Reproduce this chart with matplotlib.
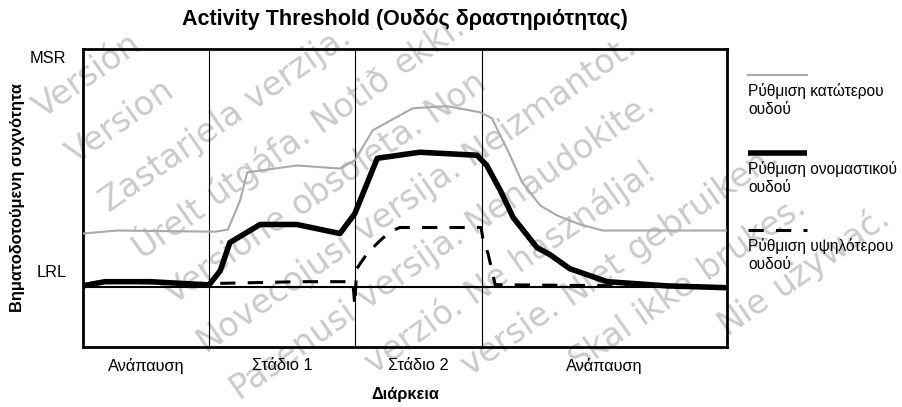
import numpy as np
import matplotlib
matplotlib.use("Agg")
import matplotlib.pyplot as plt
from matplotlib.lines import Line2D
from matplotlib.font_manager import FontProperties

plt.rcParams['font.family'] = ['Liberation Sans', 'DejaVu Sans']

# ---- data -------------------------------------------------------------
# time axis (arbitrary units, 0..100) and paced rate relative to LRL (=0)
t_lower = [0, 5.4, 20.5, 22.5, 24.4, 25.5, 33.2, 39.9, 42.2, 45.0, 51.2,
           56.5, 61.6, 63.5, 66.3, 68.2, 71.0, 73.6, 77.2, 80.7, 100]
r_lower = [17.7, 18.7, 18.3, 19.0, 28.7, 38.0, 40.3, 39.3, 42.0, 52.0, 59.3,
           60.0, 58.0, 56.0, 43.7, 34.7, 27.0, 23.7, 20.7, 18.7, 18.7]

t_nominal = [0, 3.4, 10.4, 18.9, 19.6, 21.3, 22.8, 27.5, 33.2, 39.9, 42.2,
             45.7, 52.3, 61.2, 62.7, 64.8, 66.8, 70.5, 72.5, 75.6, 81.4,
             90.7, 100]
r_nominal = [0.3, 1.7, 1.7, 0.7, 0.7, 5.3, 14.7, 20.7, 20.7, 17.7, 24.3,
             42.7, 44.7, 43.7, 40.3, 32.0, 23.0, 13.0, 10.7, 6.0, 1.7,
             0.3, -0.3]

t_upper = [0, 2.6, 18.2, 33.7, 41.9, 42.2, 42.5, 44.1, 46.1, 47.7, 49.2,
           61.8, 62.1, 62.9, 64.0, 100]
r_upper = [0.7, 1.7, 1.0, 1.7, 1.7, -6.0, 6.0, 11.0, 15.3, 18.3, 19.7,
           19.7, 16.0, 11.0, 0.7, 0.0]

phase_edges = [0, 19.6, 42.2, 62.0, 100]
phase_labels = ["Ανάπαυση", "Στάδιο 1", "Στάδιο 2", "Ανάπαυση"]

LRL = 0
MSR = 76
rate_labels = ["LRL", "MSR"]

series_labels = ["Ρύθμιση κατώτερου\nουδού",
                 "Ρύθμιση ονομαστικού\nουδού",
                 "Ρύθμιση υψηλότερου\nουδού"]

title = "Activity Threshold (Ουδός δραστηριότητας)"
xlabel = "Διάρκεια"
ylabel = "Βηματοδοτούμενη συχνότητα"

# document stamp, one language per row
stamp_rows = [
    "Outdated version. Do not use.",
    "Versión obsoleta. No utilizar.",
    "Version périmée. Ne pas utiliser.",
    "Zastarjela verzija. Nemojte upotrebljavati.",
    "Úrelt útgáfa. Notið ekki.",
    "Versione obsoleta. Non utilizzare.",
    "Novecojusi versija. Neizmantot.",
    "Pasenusi versija. Nenaudokite.",
    "Elavult verzió. Ne használja!",
    "Verouderde versie. Niet gebruiken.",
    "Utdatert versjon. Skal ikke brukes.",
    "Wersja przeterminowana. Nie używać.",
    "Versão obsoleta. Não utilize.",
    "Versiune expirată. A nu se utiliza.",
    "Zastaraná verzia. Nepoužívať.",
]

# ---- styles -----------------------------------------------------------
styles = [
    dict(color="#a9a9a9", lw=1.5, ls="-"),
    dict(color="black", lw=4.0, ls="-", solid_capstyle="butt"),
    dict(color="black", lw=2.2, ls=(0, (5, 4)), dash_capstyle="butt"),
]

W, H = 902, 407
fig = plt.figure(figsize=(W / 100, H / 100), dpi=100)
ax = fig.add_axes([83 / W, 1 - 347 / H, 644 / W, 298 / H])
ax.patch.set_alpha(0)

# stamp text: rotated rows behind the chart, whole words only
stamp_size = 24
stamp_prop = FontProperties(family="DejaVu Sans", size=stamp_size)
renderer = fig.canvas.get_renderer()


def text_w(s):
    return renderer.get_text_width_height_descent(s, stamp_prop, ismath=False)[0]


ang = np.deg2rad(35)
along = np.array([np.cos(ang), -np.sin(ang)])   # pixel coords, y down
up = np.array([-np.sin(ang), -np.cos(ang)])
perp = -up
px = stamp_size * 100 / 72
asc, desc = 0.74 * px, 0.22 * px
row0 = np.array([10.0, 72.0])
row_gap = 57
for i, row in enumerate(stamp_rows):
    start = row0 + i * row_gap * perp
    words = row.split(" ")
    for k, word in enumerate(words):
        upto = " ".join(words[:k + 1])
        b = text_w(upto)
        a = b - text_w(word)
        p0 = start + a * along
        p1 = start + b * along
        corners = [p0 + asc * up, p1 + asc * up, p0 - desc * up, p1 - desc * up]
        if all(1 <= c[0] <= W - 1 and 1 <= c[1] <= H - 1 for c in corners):
            fig.text(p0[0] / W, 1 - p0[1] / H, word, rotation=35,
                     rotation_mode="anchor", ha="left", va="baseline",
                     fontproperties=stamp_prop, color="#cacaca", zorder=-5)

ax.set_xlim(phase_edges[0], phase_edges[-1])
ax.set_ylim(-20, 79)

# phase dividers and LRL baseline
for e in phase_edges[1:-1]:
    ax.axvline(e, color="black", lw=0.8, zorder=1)
ax.axhline(LRL, color="black", lw=1.5, zorder=2)

for (t, r), st in zip([(t_lower, r_lower), (t_nominal, r_nominal),
                       (t_upper, r_upper)], styles):
    ax.plot(t, r, zorder=3, **st)

for s in ax.spines.values():
    s.set_linewidth(2.0)
ax.set_xticks([])
ax.set_yticks([])

# phase names under the axis
for i, lab in enumerate(phase_labels):
    xc = (phase_edges[i] + phase_edges[i + 1]) / 2
    ax.annotate(lab, xy=(xc, 0), xycoords=("data", "axes fraction"),
                xytext=(0, -8), textcoords="offset points",
                ha="center", va="top", fontsize=11.8)

# rate levels on the left
for lab, val, dy in zip(rate_labels, [LRL, MSR], [10, 0]):
    ax.annotate(lab, xy=(0, val), xycoords=("axes fraction", "data"),
                xytext=(-12, dy), textcoords="offset points",
                ha="right", va="center", fontsize=11.8)

fig.text(405 / W, 1 - 20 / H, title, ha="center", va="center",
         fontsize=15.5, fontweight="bold")
fig.text(405 / W, 1 - 395 / H, xlabel, ha="center", va="center",
         fontsize=11.8, fontweight="bold")
fig.text(18 / W, 1 - 198 / H, ylabel, ha="center", va="center",
         rotation=90, fontsize=11.8, fontweight="bold")

# legend: sample line above a two-line caption
leg_y = [75, 153, 230]
for lab, st, y in zip(series_labels, styles, leg_y):
    fig.add_artist(Line2D([748 / W, 807 / W], [1 - y / H] * 2,
                          transform=fig.transFigure, **st))
    fig.text(748 / W, 1 - (y + 8) / H, lab, ha="left", va="top",
             fontsize=11.2, linespacing=1.25)

fig.savefig("out.png", dpi=100)
